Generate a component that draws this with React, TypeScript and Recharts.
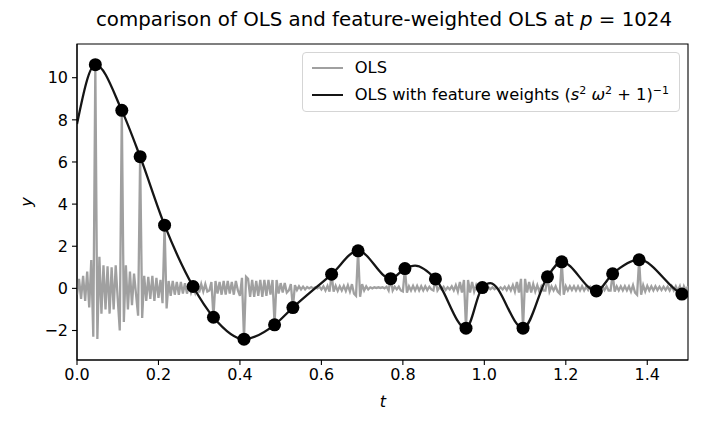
import { ComposedChart, Line, Scatter, XAxis, YAxis, ReferenceArea, Label } from "recharts";

const FONT = "'DejaVu Sans', sans-serif";

// OLS fit, sampled every 0.005 in t from 0 to 1.5
const OLS_STEP = 0.005;
const olsValues = [
  -0.3, 0.45, -0.5, 0.6, -0.6, 0.8, -0.9, 1.35, -2.3, 10.62,
  -2.4, 1.5, -1.2, 1.1, -1.0, 1.05, -1.2, 1.0, -1.0, 1.1,
  -0.5, -2.0, 8.45, -1.6, 1.1, -1.0, 0.8, -0.8, 0.7, -0.3,
  -1.3, 6.25, -1.4, 0.6, -0.6, 0.55, -0.5, 0.6, -0.6, 0.5,
  -0.45, 0.4, -0.7, 3.0, -0.95, 0.35, -0.35, 0.35, -0.3, 0.3,
  -0.3, 0.3, -0.25, 0.25, -0.25, 0.2, -0.2, 0.09, -0.2, 0.2,
  -0.2, 0.2, -0.15, 0.2, -0.15, -0.1, 0.3, -1.37, 0.35, -0.25,
  0.3, -0.3, 0.35, -0.3, 0.35, -0.25, 0.3, -0.3, 0.35, -0.1,
  -0.35, 0.5, -2.41, 0.55, 0.45, -0.4, 0.4, -0.4, 0.35, -0.35,
  0.4, -0.4, 0.4, -0.35, 0.4, -0.3, 0.4, -1.73, 0.4, -0.25,
  0.25, -0.2, 0.25, -0.2, -0.1, 0.2, -0.91, 0.15, -0.08, 0.1,
  -0.05, 0.08, -0.05, 0.06, 0.0, 0.06, 0.0, 0.05, 0.0, 0.08,
  -0.05, 0.1, -0.1, 0.12, -0.15, 0.67, -0.15, 0.12, -0.12, 0.1,
  -0.1, 0.12, -0.12, 0.15, -0.15, 0.2, -0.25, -0.35, 1.78, -0.4,
  0.2, -0.1, 0.1, -0.05, 0.05, 0.0, 0.05, 0.02, 0.05, 0.02,
  0.05, 0.0, 0.08, -0.1, 0.46, -0.1, 0.08, -0.05, 0.08, -0.1,
  -0.15, 0.94, -0.2, 0.1, -0.1, 0.12, -0.1, 0.12, -0.1, 0.1,
  -0.1, 0.1, -0.08, 0.08, -0.05, -0.1, 0.45, -0.1, 0.05, -0.05,
  0.08, -0.08, 0.05, -0.05, 0.1, -0.1, 0.15, -0.15, 0.3, -0.2,
  0.4, -1.89, 0.4, -0.2, 0.3, -0.15, 0.15, -0.1, 0.1, 0.04,
  0.08, -0.05, 0.06, -0.04, 0.05, -0.04, 0.05, -0.05, 0.05, -0.05,
  0.08, -0.08, 0.1, -0.1, 0.15, -0.15, 0.3, -0.2, 0.45, -1.89,
  0.45, -0.2, 0.3, -0.2, 0.2, -0.15, 0.15, -0.15, 0.1, -0.1,
  -0.1, 0.55, -0.15, 0.1, -0.1, 0.1, -0.15, -0.25, 1.26, -0.3,
  0.1, -0.1, 0.1, -0.08, 0.1, -0.1, 0.1, -0.1, 0.1, -0.1,
  0.08, -0.08, 0.08, -0.05, 0.05, -0.12, 0.05, -0.05, 0.08, -0.08,
  0.1, -0.1, -0.1, 0.69, -0.15, 0.1, -0.1, 0.1, -0.1, 0.1,
  -0.1, 0.1, -0.15, 0.15, -0.2, -0.3, 1.36, -0.3, 0.15, -0.15,
  0.12, -0.1, 0.1, -0.1, 0.1, -0.08, 0.08, -0.08, 0.08, -0.08,
  0.08, -0.1, 0.1, -0.1, 0.1, -0.12, 0.1, -0.27, 0.1, -0.1,
  0.1,
];

// observed samples (black dots)
const dotT = [
  0.045, 0.11, 0.155, 0.215, 0.285, 0.335, 0.41, 0.485, 0.53, 0.625, 0.69, 0.77,
  0.805, 0.88, 0.955, 0.995, 1.095, 1.155, 1.19, 1.275, 1.315, 1.38, 1.485,
];
const dotY = [
  10.62, 8.45, 6.25, 3.0, 0.09, -1.37, -2.41, -1.73, -0.91, 0.67, 1.78, 0.46,
  0.94, 0.45, -1.89, 0.04, -1.89, 0.55, 1.26, -0.12, 0.69, 1.36, -0.27,
];

const curveExtraT = [0, 0.83, 1.015, 1.5];
const curveExtraY = [7.8, 1.08, 0.25, -0.38];

const xTicks = [0, 0.2, 0.4, 0.6, 0.8, 1.0, 1.2, 1.4];
const yTicks = [-2, 0, 2, 4, 6, 8, 10];

const olsData = olsValues.map((y, i) => ({ t: +(i * OLS_STEP).toFixed(3), y }));
const dotData = dotT.map((t, i) => ({ t, y: dotY[i] }));
const curveData = [
  ...dotData,
  ...curveExtraT.map((t, i) => ({ t, y: curveExtraY[i] })),
].sort((a, b) => a.t - b.t);

const fmtY = (v: number) => (v < 0 ? "\u2212" + Math.abs(v) : String(v));

function Dot(props: any) {
  return <circle cx={props.cx} cy={props.cy} r={6.5} fill="#000" />;
}

function LegendRow({ color, children }: { color: string; children: React.ReactNode }) {
  return (
    <div style={{ display: "flex", alignItems: "center", height: 27 }}>
      <div style={{ width: 31, height: 0, borderTop: `2.3px solid ${color}`, marginRight: 12 }} />
      <div style={{ whiteSpace: "nowrap" }}>{children}</div>
    </div>
  );
}

export default function App() {
  return (
    <div style={{ position: "relative", width: 708, height: 421, fontFamily: FONT }}>
      <div
        style={{
          position: "absolute",
          left: 376,
          top: 0,
          transform: "translateX(-50%)",
          whiteSpace: "nowrap",
          fontSize: 19.8,
          lineHeight: "24px",
        }}
      >
        comparison of OLS and feature-weighted OLS at <i>p</i> = 1024
      </div>
      <ComposedChart width={708} height={421} margin={{ top: 36, right: 28, bottom: 29, left: 0 }}>
        <XAxis
          type="number"
          dataKey="t"
          domain={[0, 1.5]}
          allowDataOverflow
          ticks={xTicks}
          tickFormatter={(v: number) => v.toFixed(1)}
          height={40}
          axisLine={{ stroke: "#000", strokeWidth: 1.1 }}
          tickLine={{ stroke: "#000", strokeWidth: 1.1 }}
          tickSize={5}
          tickMargin={4}
          tick={{ fill: "#000", fontSize: 16, fontFamily: FONT }}
        >
          <Label
            content={() => (
              <text x={375} y={399} textAnchor="middle" fontStyle="italic" fontSize={16} fontFamily={FONT} fill="#000">
                t
              </text>
            )}
          />
        </XAxis>
        <YAxis
          type="number"
          dataKey="y"
          domain={[-3.4, 11.6]}
          allowDataOverflow
          ticks={yTicks}
          tickFormatter={fmtY}
          width={69}
          axisLine={{ stroke: "#000", strokeWidth: 1.1 }}
          tickLine={{ stroke: "#000", strokeWidth: 1.1 }}
          tickSize={5}
          tickMargin={4}
          tick={{ fill: "#000", fontSize: 16, fontFamily: FONT }}
        >
          <Label
            content={() => (
              <text
                x={24}
                y={194}
                transform="rotate(-90 24 194)"
                textAnchor="middle"
                fontStyle="italic"
                fontSize={16}
                fontFamily={FONT}
                fill="#000"
              >
                y
              </text>
            )}
          />
        </YAxis>
        <Line
          data={olsData}
          dataKey="y"
          type="linear"
          stroke="#a0a0a0"
          strokeWidth={2.3}
          dot={false}
          isAnimationActive={false}
        />
        <Line
          data={curveData}
          dataKey="y"
          type="monotone"
          stroke="#151515"
          strokeWidth={2.3}
          dot={false}
          isAnimationActive={false}
        />
        <Scatter data={dotData} dataKey="y" fill="#000" shape={<Dot />} isAnimationActive={false} />
        <ReferenceArea x1={0} x2={1.5} y1={-3.4} y2={11.6} fill="none" stroke="#000" strokeWidth={1.1} />
      </ComposedChart>
      <div
        style={{
          position: "absolute",
          right: 36,
          top: 44,
          border: "1px solid #d5d5d5",
          borderRadius: 4,
          background: "rgba(255,255,255,0.85)",
          padding: "1px 10px 3px 9px",
          fontSize: 16.3,
        }}
      >
        <LegendRow color="#a0a0a0">OLS</LegendRow>
        <LegendRow color="#151515">
          OLS with feature weights (<i>s</i>
          <sup style={{ fontSize: 11 }}>2</sup> <i>ω</i>
          <sup style={{ fontSize: 11 }}>2</sup> + 1)
          <sup style={{ fontSize: 11 }}>−1</sup>
        </LegendRow>
      </div>
    </div>
  );
}
